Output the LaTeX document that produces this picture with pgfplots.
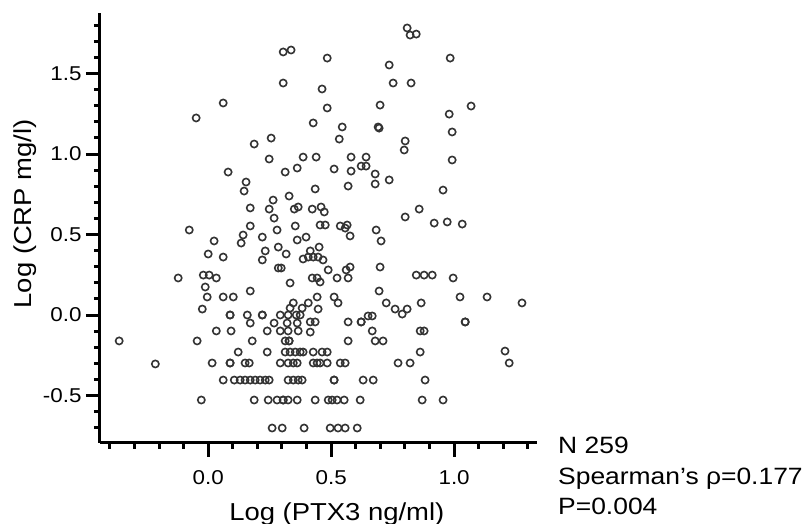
\documentclass[border=0pt]{standalone}
\usepackage{pgfplots}
\pgfplotsset{compat=1.18}
\usepackage{fontspec}
\setmainfont{Liberation Sans}[FakeStretch=1.12]
\begin{document}
\begin{tikzpicture}
\path[use as bounding box] (-100pt,-81pt) rectangle (709pt,443pt);
\begin{axis}[
  at={(0pt,0pt)}, anchor=south west,
  scale only axis, width=437pt, height=430pt,
  xmin=-0.44, xmax=1.337, ymin=-0.795, ymax=1.876,
  axis x line*=bottom, axis y line*=left,
  every outer x axis line/.append style={-, line width=3pt, black},
  every outer y axis line/.append style={-, line width=3pt, black},
  xtick={0,0.5,1}, ytick={-0.5,0,0.5,1,1.5},
  minor xtick={-0.4,-0.3,...,1.3}, minor ytick={-0.7,-0.6,...,1.8},
  tick align=outside, major tick length=14pt, minor tick length=6pt,
  major tick style={black, line width=3pt},
  minor tick style={black, line width=3pt},
  /pgf/number format/assume math mode=true,
  /pgf/number format/fixed, /pgf/number format/fixed zerofill,
  /pgf/number format/precision=1,
  ticklabel style={font=\fontsize{20}{22}\selectfont},
  xticklabel style={yshift=-10pt},
  yticklabel style={xshift=-1pt},
  xlabel={Log (PTX3 ng/ml)}, ylabel={Log (CRP mg/l)},
  label style={font=\fontsize{24.5}{28}\selectfont},
  xlabel style={at={(rel axis cs:0.542,0)}, anchor=north, yshift=-56pt},
  ylabel style={at={(rel axis cs:0,0.533)}, anchor=base, yshift=68pt},
  clip=false,
]
\addplot[only marks, mark=o, mark size=3.6pt, mark options={line width=1.6pt, draw=black!80}] table {
x y
0.809 1.783
0.821 1.739
0.846 1.745
0.305 1.634
0.337 1.646
0.484 1.596
0.984 1.596
0.736 1.553
0.305 1.441
0.752 1.441
0.825 1.441
0.463 1.404
0.061 1.317
0.484 1.286
0.699 1.304
1.069 1.298
-0.049 1.224
0.980 1.248
0.427 1.193
0.545 1.168
0.691 1.168
0.695 1.161
0.992 1.137
0.256 1.099
0.533 1.093
0.801 1.081
0.187 1.062
0.797 1.025
0.248 0.969
0.992 0.963
0.386 0.981
0.439 0.981
0.581 0.981
0.642 0.981
0.081 0.888
0.313 0.888
0.362 0.913
0.512 0.907
0.581 0.894
0.622 0.925
0.642 0.925
0.679 0.876
0.736 0.839
0.154 0.826
0.146 0.770
0.679 0.814
0.569 0.801
0.435 0.783
0.955 0.776
0.329 0.739
0.264 0.714
0.171 0.665
0.248 0.658
0.350 0.658
0.366 0.671
0.423 0.658
0.459 0.671
0.472 0.640
0.801 0.609
0.858 0.658
0.268 0.602
0.919 0.571
0.972 0.578
1.033 0.565
0.171 0.553
0.354 0.553
0.280 0.528
-0.077 0.528
0.455 0.559
0.476 0.559
0.537 0.553
0.557 0.540
0.565 0.559
0.577 0.491
0.683 0.528
0.703 0.460
0.362 0.466
0.398 0.484
0.024 0.460
0.134 0.447
0.142 0.497
0.220 0.484
0.285 0.422
0.451 0.422
0.232 0.398
0.000 0.379
0.061 0.360
0.317 0.379
0.415 0.398
0.220 0.342
0.386 0.348
0.407 0.360
0.427 0.360
0.447 0.360
0.467 0.342
0.285 0.292
0.297 0.292
0.488 0.280
0.561 0.280
0.577 0.298
0.699 0.298
-0.020 0.248
0.004 0.248
0.033 0.230
-0.122 0.230
0.423 0.230
0.443 0.230
0.455 0.205
0.524 0.230
0.569 0.230
0.846 0.248
0.878 0.248
0.911 0.248
0.996 0.230
0.333 0.199
-0.012 0.174
0.171 0.149
0.695 0.149
-0.004 0.112
0.061 0.112
0.102 0.112
0.443 0.112
0.512 0.112
1.024 0.112
1.134 0.112
0.346 0.075
0.407 0.075
0.528 0.075
0.724 0.075
0.866 0.075
1.276 0.075
-0.024 0.037
0.333 0.043
0.382 0.043
0.447 0.037
0.760 0.037
0.789 0.006
0.809 0.037
0.089 0.000
0.089 0.000
0.159 0.000
0.220 0.000
0.220 0.000
0.293 0.000
0.325 0.000
0.358 0.000
0.374 0.000
0.650 -0.006
0.667 -0.006
0.171 -0.050
0.268 -0.050
0.321 -0.050
0.362 -0.050
0.415 -0.043
0.435 -0.043
0.569 -0.043
0.622 -0.043
0.622 -0.043
1.045 -0.043
1.045 -0.043
0.033 -0.099
0.093 -0.099
0.240 -0.099
0.293 -0.099
0.325 -0.099
0.366 -0.099
0.415 -0.106
0.667 -0.099
0.862 -0.099
0.878 -0.099
-0.362 -0.161
-0.045 -0.161
0.179 -0.161
0.313 -0.161
0.329 -0.161
0.329 -0.161
0.569 -0.161
0.679 -0.161
0.711 -0.161
0.122 -0.230
0.240 -0.230
0.313 -0.230
0.333 -0.230
0.354 -0.230
0.374 -0.230
0.386 -0.230
0.427 -0.230
0.463 -0.230
0.484 -0.230
0.862 -0.230
1.207 -0.224
-0.215 -0.304
0.016 -0.298
0.089 -0.298
0.089 -0.298
0.150 -0.298
0.167 -0.298
0.293 -0.298
0.325 -0.298
0.346 -0.298
0.362 -0.298
0.427 -0.298
0.443 -0.298
0.455 -0.298
0.484 -0.298
0.537 -0.298
0.557 -0.298
0.772 -0.298
0.821 -0.298
1.224 -0.298
0.061 -0.404
0.106 -0.404
0.130 -0.404
0.150 -0.404
0.171 -0.404
0.191 -0.404
0.211 -0.404
0.232 -0.404
0.248 -0.404
0.325 -0.404
0.346 -0.404
0.366 -0.404
0.382 -0.404
0.512 -0.404
0.512 -0.404
0.630 -0.404
0.671 -0.404
0.882 -0.404
-0.028 -0.528
0.187 -0.528
0.244 -0.528
0.280 -0.528
0.305 -0.528
0.305 -0.528
0.325 -0.528
0.362 -0.528
0.435 -0.528
0.488 -0.528
0.504 -0.528
0.524 -0.528
0.553 -0.528
0.618 -0.528
0.870 -0.528
0.955 -0.528
0.260 -0.702
0.301 -0.702
0.390 -0.702
0.496 -0.702
0.528 -0.702
0.557 -0.702
0.606 -0.702
};
\end{axis}
\begin{scope}[every node/.style={anchor=base west, inner sep=0pt, font=\fontsize{23.6}{28}\selectfont}]
\node at (458pt,-11pt) {N 259};
\node at (458pt,-42pt) {Spearman's ρ=0.177};
\node at (458pt,-72pt) {P=0.004};
\end{scope}
\end{tikzpicture}
\end{document}
